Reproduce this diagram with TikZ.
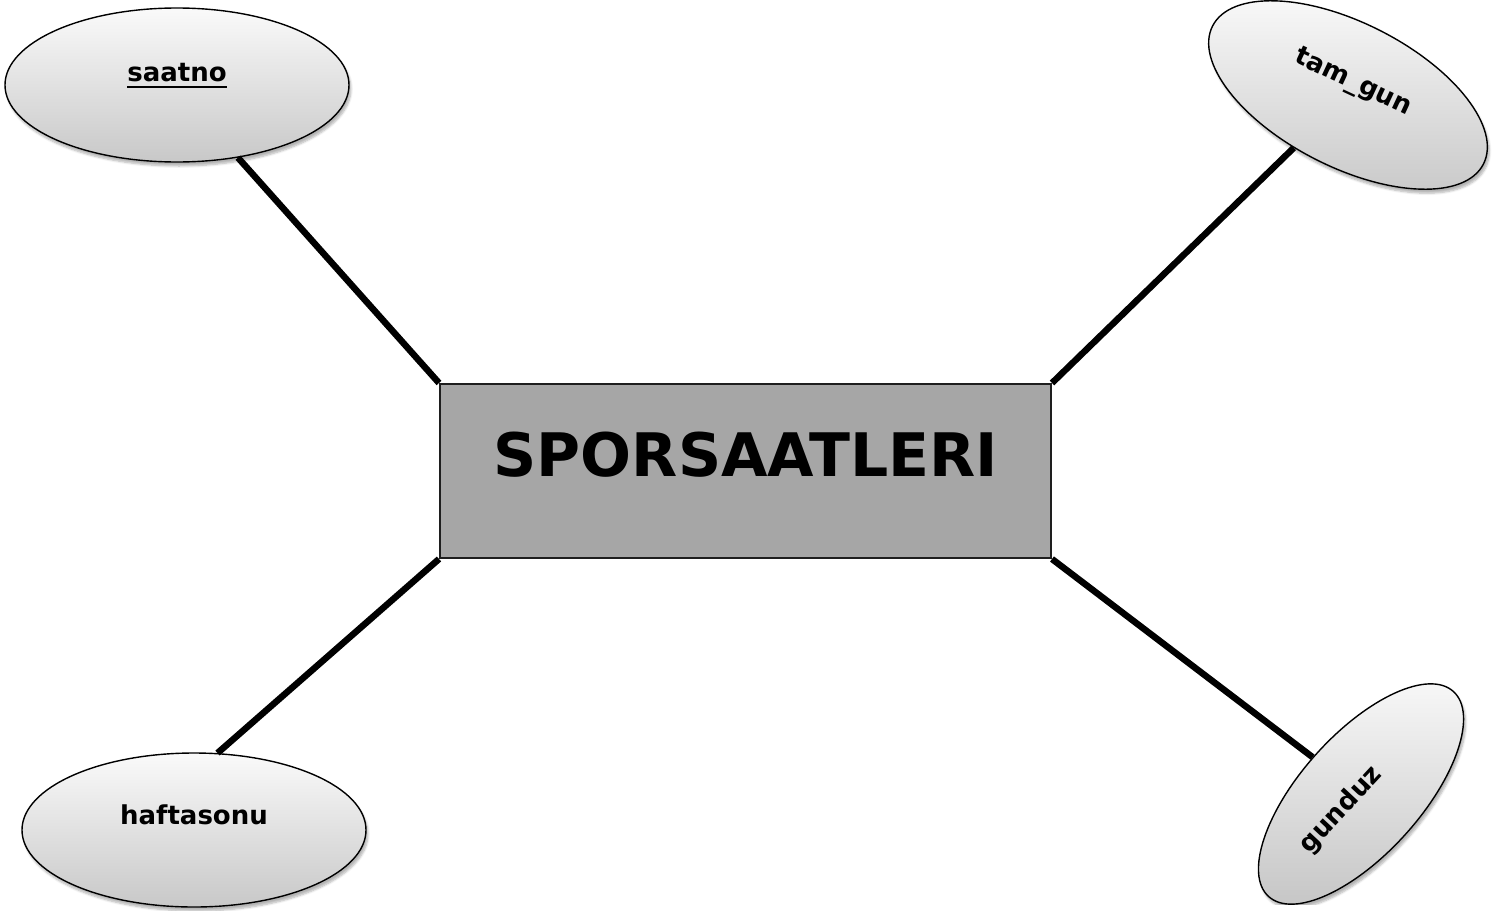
\documentclass[tikz,border=0pt]{standalone}
\usepackage{fontspec}
\setmainfont{DejaVu Sans}
\usetikzlibrary{shapes.geometric,shadows.blur}
\definecolor{elltop}{RGB}{250,250,250}
\definecolor{ellbot}{RGB}{200,200,200}
\definecolor{boxfill}{RGB}{166,166,166}
\definecolor{boxline}{RGB}{30,30,30}
\tikzset{
  attr/.style={ellipse, draw=black, line width=1.4pt, inner sep=0pt,
    top color=elltop, bottom color=ellbot,
    blur shadow={shadow xshift=2pt, shadow yshift=-4pt, shadow blur steps=6, shadow opacity=30}},
  entity/.style={rectangle, draw=boxline, line width=2pt, fill=boxfill, inner sep=0pt,
    minimum width=611pt, minimum height=174pt},
  lbl/.style={font=\bfseries\fontsize{26}{30}\selectfont, inner sep=0pt},
  conn/.style={line width=6.5pt, black}
}
\begin{document}
\begin{tikzpicture}[x=1pt,y=-1pt]
\useasboundingbox (0,0) rectangle (1495,910);
% connectors (drawn first, under the shapes)
\node[entity] (ent) at (745.5,471) {};
\node[attr, minimum width=344pt, minimum height=154pt] (saatno) at (177,85) {};
\node[attr, minimum width=304pt, minimum height=144pt, rotate=-27] (tamgun) at (1348,95) {};
\node[attr, minimum width=344pt, minimum height=154pt] (haft) at (194,830) {};
\node[attr, minimum width=276pt, minimum height=120pt, rotate=48] (gunduz) at (1361,794) {};
\draw[conn] (saatno.-50) -- (ent.north west);
\draw[conn] (tamgun) -- (ent.north east);
\draw[conn] (haft.73) -- (ent.south west);
\draw[conn] (gunduz) -- (ent.south east);
% entity label
\node[font=\bfseries\fontsize{60}{68}\selectfont, inner sep=0pt] (entl) at (746,455) {SPORSAATLERI};
% attribute labels
\node[lbl] (saatnol) at (177,73) {saatno};
\draw[line width=2.4pt] ([yshift=-5pt]saatnol.base west) -- ([yshift=-5pt]saatnol.base east);
\node[lbl, rotate=-25] (tamgunl) at (1353,83) {tam\_gun};
\node[lbl] (haftl) at (194,815) {haftasonu};
\node[lbl, rotate=47] (gunduzl) at (1341,810) {gunduz};
\end{tikzpicture}
\end{document}
